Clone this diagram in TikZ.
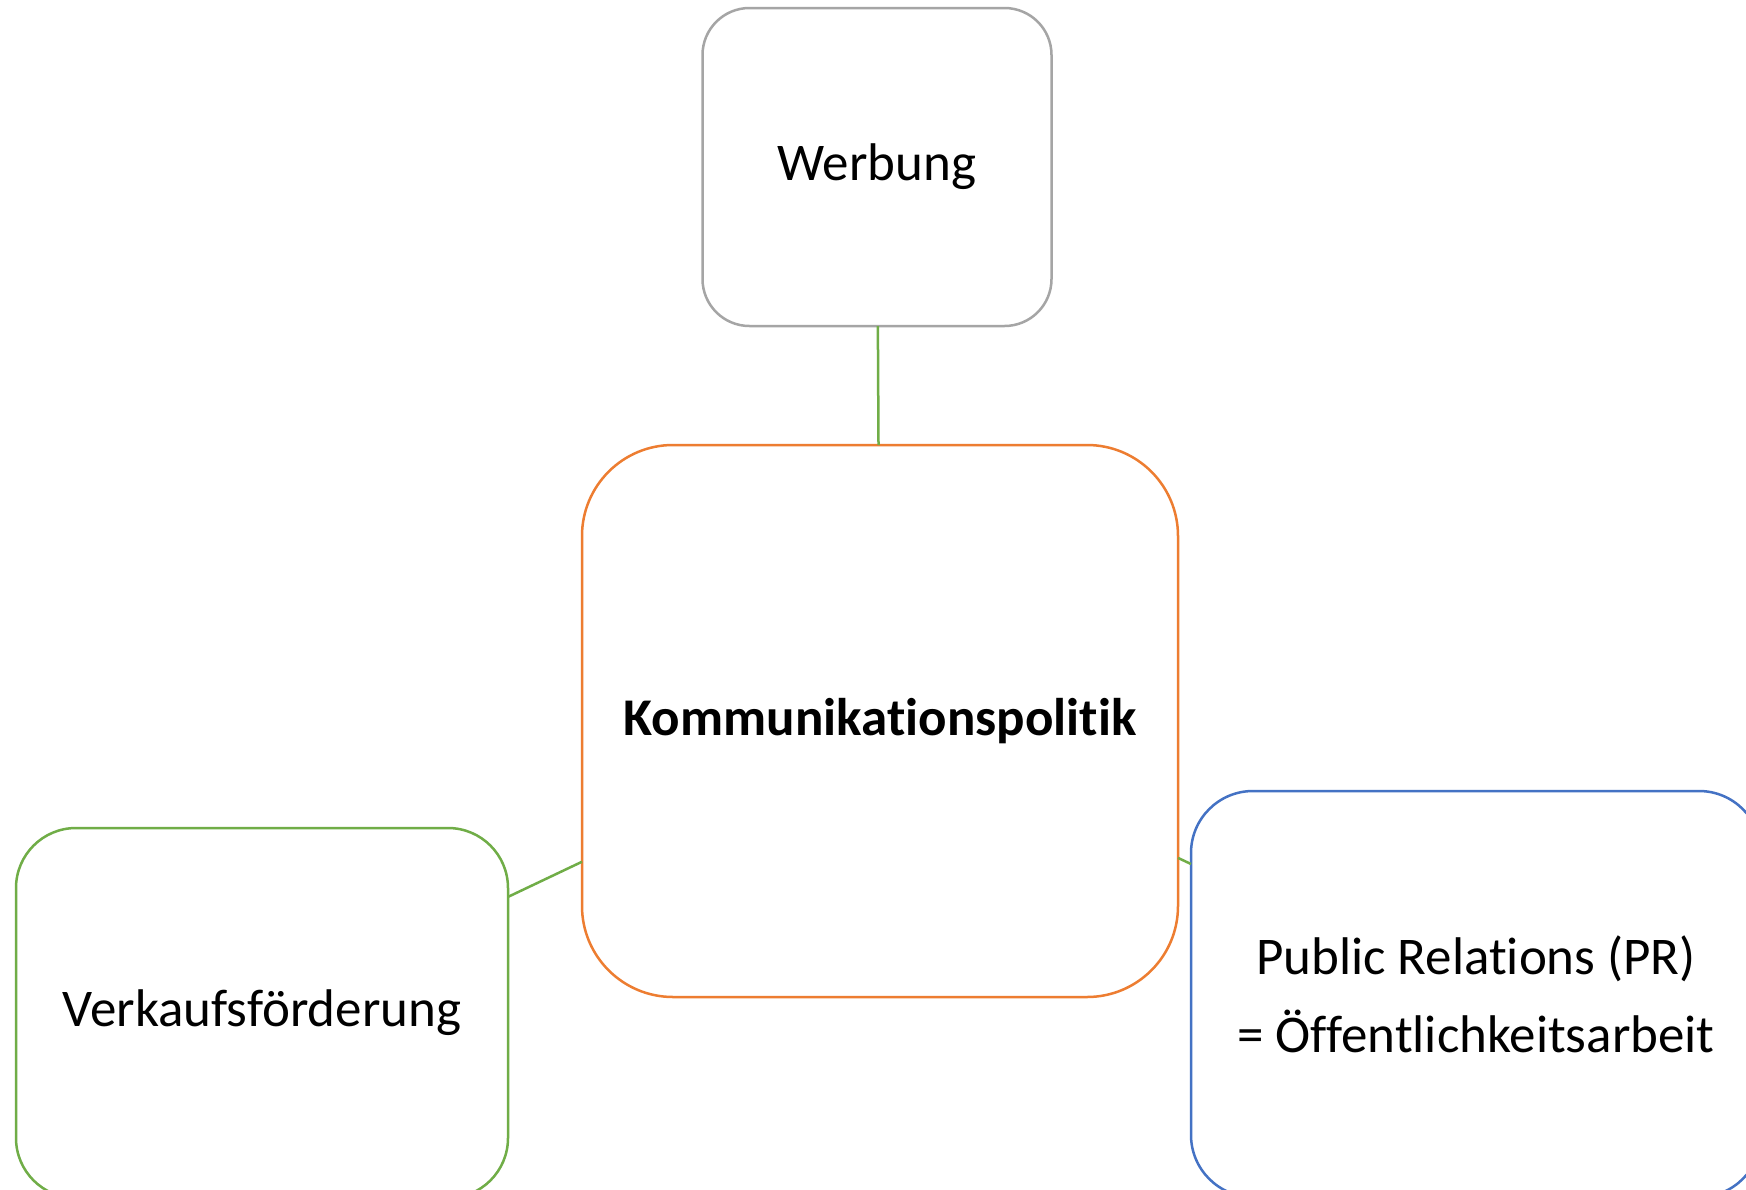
\documentclass[tikz,border=0pt]{standalone}
\usepackage{fontspec}
\setmainfont{Carlito}[RawFeature={-liga;-dlig;-clig}]
\definecolor{cgray}{HTML}{A5A5A5}
\definecolor{corange}{HTML}{ED7D31}
\definecolor{cgreen}{HTML}{70AD47}
\definecolor{cblue}{HTML}{4472C4}
\begin{document}
\begin{tikzpicture}[x=0.5pt,y=-0.5pt,
  box/.style={draw, fill=white, line width=1.25pt, inner sep=0pt, outer sep=0pt,
    align=center, font=\fontsize{26.5}{39}\selectfont},
  conn/.style={draw=cgreen, line width=1.25pt}]
\useasboundingbox (0,0) rectangle (1746,1189);
\clip (0,0) rectangle (1746,1189);
\fill[white] (0,0) rectangle (1746,1189);
\node[box, draw=cgray, rounded corners=23.5pt, minimum width=174.5pt, minimum height=159pt] (wer) at (877,167) {Werbung};
\node[box, draw=corange, rounded corners=45.5pt, minimum width=298pt, minimum height=276pt] (kp) at (880,721) {\bfseries Kommunikationspolitik};
\node[box, draw=cgreen, rounded corners=30pt, minimum width=246pt, minimum height=185pt] (vk) at (262,1013) {Verkaufsförderung};
\node[box, draw=cblue, rounded corners=31pt, minimum width=285pt, minimum height=203pt] (pr) at (1476,994) {Public Relations (PR)\\= Öffentlichkeitsarbeit};
\draw[conn] (wer) -- (kp);
\draw[conn] (vk) -- (kp);
\draw[conn] (kp) -- (pr);
\end{tikzpicture}
\end{document}
